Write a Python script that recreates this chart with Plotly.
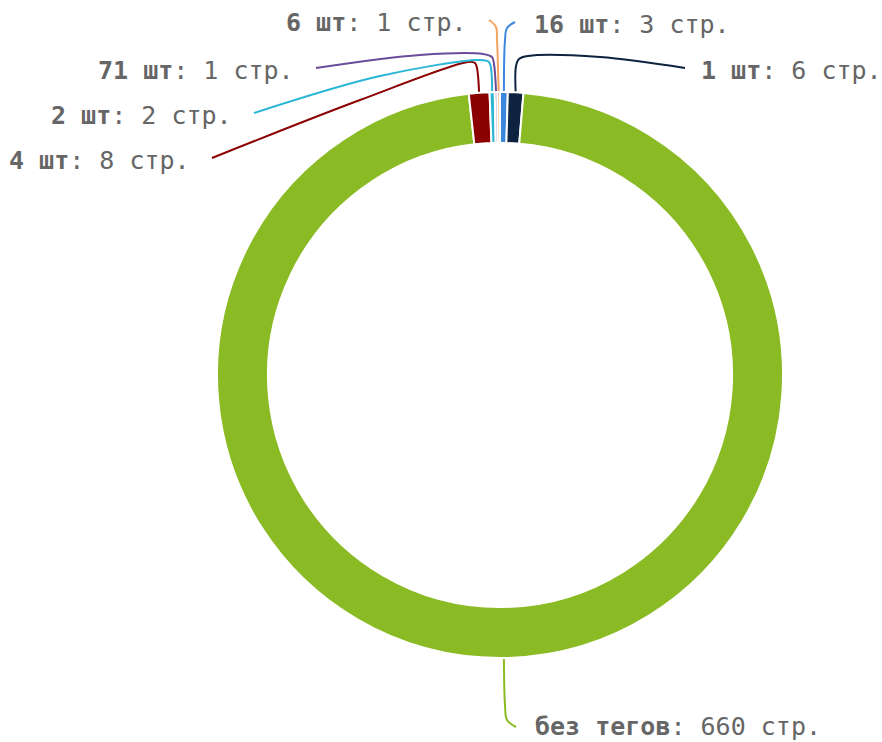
import math
import plotly.graph_objects as go

# ---- data ----
labels_bold = ["16 шт", "1 шт", "без тегов", "4 шт", "2 шт", "71 шт", "6 шт"]
values = [3, 6, 660, 8, 2, 1, 1]
colors = ["#3A87DD", "#0D233F", "#8BBB24", "#8B0000", "#2CB6D6", "#6B4C9A", "#F4A460"]
unit = "стр."

# ---- layout (pixel geometry) ----
W, H = 882, 742
CX, CY, R = 500, 375, 283
HOLE = 0.82

# per-label leader layout: knee points, end point, text side, text gap, text dy
leader = {
    "16 шт":     dict(path=[(505, 40), (507, 28)], end=(515, 22), side="left", gap=17, dy=2),
    "1 шт":      dict(path=[(516, 66), (519, 59), (528, 56), (600, 57)], end=(685, 68), side="left", gap=14, dy=2),
    "без тегов": dict(path=[(505, 705), (507, 720)], end=(516, 727), side="left", gap=17, dy=-1),
    "4 шт":      dict(path=[(477, 68), (475, 63), (468, 62), (360, 100)], end=(212, 158), side="right", gap=20, dy=2),
    "2 шт":      dict(path=[(491, 68), (489, 62), (480, 60), (380, 76)], end=(254, 113), side="right", gap=20, dy=2),
    "71 шт":     dict(path=[(494, 64), (492, 57), (483, 54), (420, 55)], end=(316, 68), side="right", gap=20, dy=2),
    "6 шт":      dict(path=[(497, 40), (496, 27)], end=(489, 20), side="right", gap=20, dy=2),
}

fig = go.Figure()

fig.add_trace(go.Pie(
    labels=labels_bold, values=values, sort=False, direction="clockwise", rotation=0,
    hole=HOLE, textinfo="none", hoverinfo="label+value",
    marker=dict(colors=colors, line=dict(color="white", width=2)),
    domain=dict(x=[(CX - R) / W, (CX + R) / W], y=[(H - CY - R) / H, (H - CY + R) / H]),
    showlegend=False,
))

total = sum(values)
cum = 0
annotations = []
for lab, v, col in zip(labels_bold, values, colors):
    mid = (cum + v / 2) / total * 2 * math.pi
    cum += v
    sx = CX + R * math.sin(mid)
    sy = CY - R * math.cos(mid)
    cfg = leader[lab]
    pts = [(sx, sy)] + cfg["path"] + [cfg["end"]]
    fig.add_trace(go.Scatter(
        x=[p[0] for p in pts], y=[p[1] for p in pts], mode="lines",
        line=dict(color=col, width=2, shape="spline", smoothing=1.0),
        hoverinfo="skip", showlegend=False, xaxis="x", yaxis="y",
    ))
    ex, ey = cfg["end"]
    if cfg["side"] == "left":
        tx, anchor = ex + cfg["gap"], "left"
    else:
        tx, anchor = ex - cfg["gap"], "right"
    annotations.append(dict(
        x=tx, y=ey + cfg["dy"], xref="x", yref="y", showarrow=False,
        text=f"<b>{lab}</b>: {v} {unit}", xanchor=anchor, yanchor="middle",
        font=dict(family="DejaVu Sans Mono", size=25, color="#666666"),
    ))

fig.update_layout(
    width=W, height=H, margin=dict(l=0, r=0, t=0, b=0),
    paper_bgcolor="white", plot_bgcolor="rgba(0,0,0,0)",
    xaxis=dict(range=[0, W], visible=False, fixedrange=True),
    yaxis=dict(range=[H, 0], visible=False, fixedrange=True),
    annotations=annotations,
)

fig.write_html("out.html", config={"displayModeBar": False},
               post_script="document.body.style.margin='0';")
